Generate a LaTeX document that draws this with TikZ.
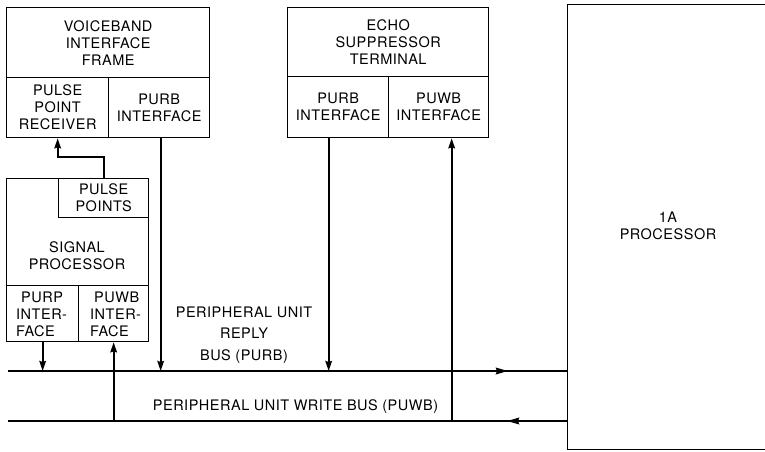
\documentclass[tikz,border=0pt]{standalone}
\usepackage{fontspec}
\setmainfont{TeX Gyre Heros}[LetterSpace=3.5]
\usetikzlibrary{arrows.meta,decorations.markings,calc}
\begin{document}
\begin{tikzpicture}[x=1pt,y=-1pt,
  every node/.style={font=\fontsize{14.5}{17}\selectfont, align=center},
  blk/.style={draw, line width=1.3pt, inner sep=0pt, anchor=north west},
  conn/.style={line width=2pt},
  tipa/.style={-{Stealth[length=10pt,width=6.5pt,inset=1pt]}},
  bus/.style={line width=2.2pt}]
\useasboundingbox (0,0) rectangle (765,451);
\clip (0,0) rectangle (765,451);
\fill[white] (0,0) rectangle (765,451);
% Voiceband interface frame
\node[blk, minimum width=203pt, minimum height=70pt] (vif) at (6,7) {VOICEBAND\\INTERFACE\\FRAME};
\node[blk, minimum width=102pt, minimum height=60pt] (ppr) at (6,77) {PULSE\\POINT\\RECEIVER};
\node[blk, minimum width=101pt, minimum height=60pt] (vpurb) at (108,77) {PURB\\INTERFACE};
% Echo suppressor terminal
\node[blk, minimum width=201pt, minimum height=69pt] (est) at (287,7) {ECHO\\SUPPRESSOR\\TERMINAL};
\node[blk, minimum width=101pt, minimum height=61pt] (epurb) at (287,76) {PURB\\INTERFACE};
\node[blk, minimum width=100pt, minimum height=61pt] (epuwb) at (388,76) {PUWB\\INTERFACE};
% Signal processor
\node[blk, minimum width=142pt, minimum height=107pt] (sp) at (6,178) {};
\node (spt) at (77,255.5) {SIGNAL\\PROCESSOR};
\node[blk, minimum width=90pt, minimum height=39pt] (pp) at (58,178) {PULSE\\POINTS};
\node[blk, minimum width=72pt, minimum height=56pt] (purp) at (6,285) {};
\node[blk, minimum width=70pt, minimum height=56pt] (spuwb) at (78,285) {};
\node[anchor=west, align=left, inner sep=0pt] (purpt) at (16,314) {\hspace{5pt}PURP\\INTER-\\FACE};
\node[anchor=west, align=left, inner sep=0pt] (spuwbt) at (90,314) {\hspace{4pt}PUWB\\INTER-\\FACE};
% 1A processor
\node[blk, minimum width=260pt, minimum height=445pt] (proc) at (567,4) {};
\node (proct) at (668,226) {1A\\PROCESSOR};
% buses
\coordinate (b1l) at (8,371);
\coordinate (b2l) at (8,421);
\draw[bus, postaction={decorate}, decoration={markings, mark=at position 500pt with {\arrow{Stealth[length=12pt,width=6.5pt,inset=1pt]}}}] (b1l) -- (b1l -| proc.west);
\draw[bus, postaction={decorate}, decoration={markings, mark=at position 60pt with {\arrow{Stealth[length=12pt,width=6.5pt,inset=1pt]}}}] (b2l -| proc.west) -- (b2l);
\node[font=\fontsize{14.5}{21.5}\selectfont] (purbl) at (244,335) {PERIPHERAL UNIT\\REPLY\\BUS (PURB)};
\node (puwbl) at (295.5,407) {PERIPHERAL UNIT WRITE BUS (PUWB)};
% connectors
\draw[conn, tipa] (pp.north) -- ++(0,-21) -| (ppr.south);
\draw[conn, tipa] ([xshift=1.5pt]vpurb.south) -- ([xshift=1.5pt]vpurb.south |- b1l);
\draw[conn, tipa] (purp.south) -- (purp.south |- b1l);
\draw[conn, tipa] (spuwb.south |- b2l) -- (spuwb.south);
\draw[conn, tipa] ([xshift=-9.5pt]epurb.south) -- ([xshift=-9.5pt]epurb.south |- b1l);
\draw[conn, tipa] ([xshift=13pt]epuwb.south |- b2l) -- ([xshift=13pt]epuwb.south);
\end{tikzpicture}
\end{document}
